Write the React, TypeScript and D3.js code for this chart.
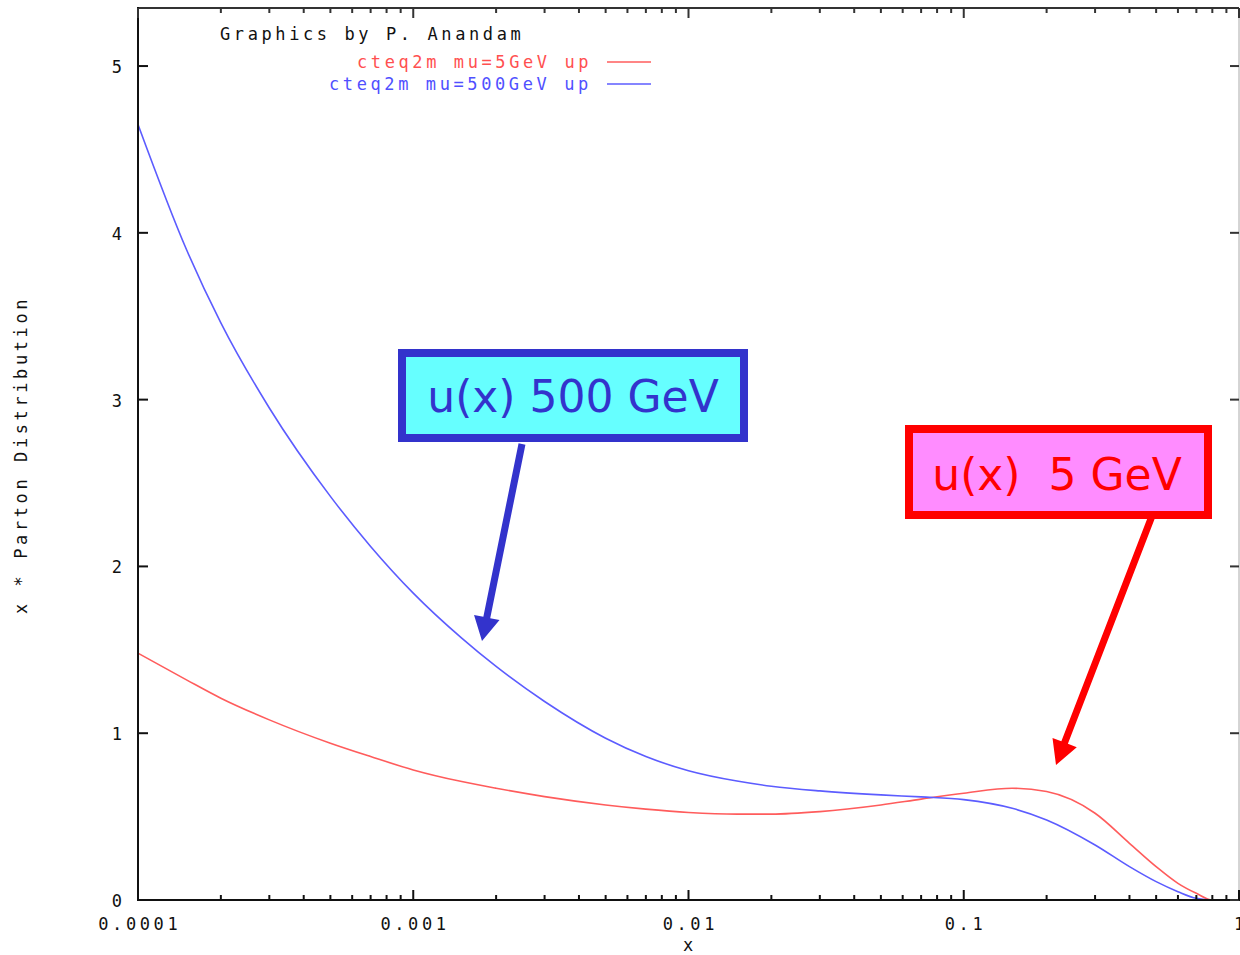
import React from "react";
import * as d3 from "d3";

const X_VALUES = [1e-4, 1.5e-4, 2e-4, 3e-4, 5e-4, 7e-4, 1e-3, 1.5e-3, 2e-3, 3e-3, 5e-3, 7e-3, 0.01, 0.015, 0.02, 0.03, 0.05, 0.07, 0.1, 0.15, 0.2, 0.3, 0.4, 0.5, 0.6, 0.7, 0.8, 0.9, 1];
const U_5GEV = [1.48, 1.32, 1.21, 1.08, 0.94, 0.86, 0.78, 0.71, 0.67, 0.62, 0.57, 0.545, 0.525, 0.515, 0.515, 0.53, 0.57, 0.605, 0.64, 0.67, 0.65, 0.52, 0.34, 0.2, 0.1, 0.04, 0.0, 0, 0];
const U_500GEV = [4.65, 3.9, 3.46, 2.95, 2.42, 2.12, 1.84, 1.57, 1.4, 1.19, 0.97, 0.86, 0.775, 0.713, 0.682, 0.654, 0.63, 0.618, 0.602, 0.55, 0.48, 0.33, 0.2, 0.11, 0.05, 0.01, 0, 0, 0];

const X_TICKS = [1e-4, 1e-3, 1e-2, 0.1, 1];
const X_TICK_LABELS = ["0.0001", "0.001", "0.01", "0.1", "1"];
const Y_TICKS = [0, 1, 2, 3, 4, 5];

const SERIES_LABELS = ["cteq2m mu=5GeV up", "cteq2m mu=500GeV up"];
const CREDIT = "Graphics by P. Anandam";
const X_TITLE = "x";
const Y_TITLE = "x * Parton Distribution";
const NOTE_500 = "u(x) 500 GeV";
const NOTE_5 = "u(x)  5 GeV";

const MONO = "'DejaVu Sans Mono', monospace";
const LS = 3.6;

function arrowPoly(x1: number, y1: number, x2: number, y2: number, w: number, hl: number, hw: number) {
  const dx = x2 - x1, dy = y2 - y1;
  const L = Math.hypot(dx, dy);
  const ux = dx / L, uy = dy / L;
  const nx = -uy, ny = ux;
  const bx = x2 - ux * hl, by = y2 - uy * hl;
  const pts = [
    [x1 + nx * w / 2, y1 + ny * w / 2],
    [bx + nx * w / 2, by + ny * w / 2],
    [bx + nx * hw, by + ny * hw],
    [x2, y2],
    [bx - nx * hw, by - ny * hw],
    [bx - nx * w / 2, by - ny * w / 2],
    [x1 - nx * w / 2, y1 - ny * w / 2],
  ];
  return pts.map((p) => p.join(",")).join(" ");
}

export default function App() {
  const left = 138, right = 1239, top = 8, bottom = 900;
  const x = d3.scaleLog().domain([1e-4, 1]).range([left, right]);
  const y = d3.scaleLinear().domain([0, 5.348]).range([bottom, top]);

  const line = d3
    .line<number>()
    .x((_, i) => x(X_VALUES[i]))
    .y((d) => y(d))
    .curve(d3.curveMonotoneX);

  const minor: number[] = [];
  for (let e = -4; e < 0; e++) {
    for (let k = 2; k <= 9; k++) minor.push(k * Math.pow(10, e));
  }

  return (
    <svg
      width={1240}
      height={955}
      style={{ position: "absolute", left: 0, top: 0, display: "block", background: "#fff" }}
    >
      <rect x={0} y={0} width={1240} height={955} fill="#fff" />
      {/* curves */}
      <path d={line(U_5GEV) || ""} fill="none" stroke="#ff5c5c" strokeWidth={1.6} />
      <path d={line(U_500GEV) || ""} fill="none" stroke="#5c5cff" strokeWidth={1.6} />

      {/* frame */}
      <line x1={left} y1={top} x2={right} y2={top} stroke="#333" strokeWidth={2} />
      <line x1={right} y1={top} x2={right} y2={bottom} stroke="#aaa" strokeWidth={1} />
      <line x1={left} y1={top - 1} x2={left} y2={bottom + 1} stroke="#111" strokeWidth={2} />
      <line x1={left} y1={bottom} x2={right + 1} y2={bottom} stroke="#111" strokeWidth={2} />

      {/* y ticks */}
      {Y_TICKS.map((t) => (
        <g key={"y" + t}>
          <line x1={left} x2={left + 10} y1={y(t)} y2={y(t)} stroke="#111" strokeWidth={2} />
          <line x1={right - 9} x2={right} y1={y(t)} y2={y(t)} stroke="#333" strokeWidth={2} />
          <text x={122} y={y(t) + 7} textAnchor="end" fontFamily={MONO} fontSize={17} fill="#111">
            {t}
          </text>
        </g>
      ))}

      {/* x ticks */}
      {X_TICKS.map((t, i) => (
        <g key={"x" + t}>
          <line x1={x(t)} x2={x(t)} y1={bottom} y2={bottom - 10} stroke="#111" strokeWidth={2} />
          <line x1={x(t)} x2={x(t)} y1={top} y2={top + 10} stroke="#333" strokeWidth={2} />
          <text
            x={x(t) + LS / 2}
            y={930}
            textAnchor="middle"
            fontFamily={MONO}
            fontSize={17}
            letterSpacing={LS}
            fill="#111"
          >
            {X_TICK_LABELS[i]}
          </text>
        </g>
      ))}
      {minor.map((t) => (
        <g key={"m" + t}>
          <line x1={x(t)} x2={x(t)} y1={bottom} y2={bottom - 5} stroke="#111" strokeWidth={2} />
          <line x1={x(t)} x2={x(t)} y1={top} y2={top + 5} stroke="#333" strokeWidth={2} />
        </g>
      ))}

      {/* axis titles */}
      <text x={688} y={951} textAnchor="middle" fontFamily={MONO} fontSize={17} fill="#111">
        {X_TITLE}
      </text>
      <text
        transform="translate(27,455) rotate(-90)"
        textAnchor="middle"
        fontFamily={MONO}
        fontSize={17}
        letterSpacing={LS}
        fill="#111"
      >
        {Y_TITLE}
      </text>

      {/* legend */}
      <text x={220} y={40} fontFamily={MONO} fontSize={17} letterSpacing={LS} fill="#111">
        {CREDIT}
      </text>
      <text x={357} y={68} fontFamily={MONO} fontSize={17} letterSpacing={LS} fill="#ff5050">
        {SERIES_LABELS[0]}
      </text>
      <line x1={607} x2={651} y1={62} y2={62} stroke="#ff5c5c" strokeWidth={1.6} />
      <text x={329} y={90} fontFamily={MONO} fontSize={17} letterSpacing={LS} fill="#5050ff">
        {SERIES_LABELS[1]}
      </text>
      <line x1={607} x2={651} y1={84} y2={84} stroke="#5c5cff" strokeWidth={1.6} />

      {/* annotations */}
      <polygon points={arrowPoly(522, 444, 482, 641, 7, 24, 13)} fill="#3333cc" />
      <rect x={402} y={353} width={342} height={85} fill="#66ffff" stroke="#3333cc" strokeWidth={8} />
      <text
        x={573}
        y={412}
        textAnchor="middle"
        fontFamily="'DejaVu Sans', sans-serif"
        fontSize={44}
        fill="#3333cc"
      >
        {NOTE_500}
      </text>

      <polygon points={arrowPoly(1152, 516, 1056, 765, 7, 24, 13)} fill="#ff0000" />
      <rect x={909} y={429} width={299} height={86} fill="#ff8cff" stroke="#ff0000" strokeWidth={8} />
      <text
        x={1057}
        y={490}
        textAnchor="middle"
        fontFamily="'DejaVu Sans', sans-serif"
        fontSize={44}
        fill="#ff0000"
        style={{ whiteSpace: "pre" }}
        xmlSpace="preserve"
      >
        {NOTE_5}
      </text>
    </svg>
  );
}
